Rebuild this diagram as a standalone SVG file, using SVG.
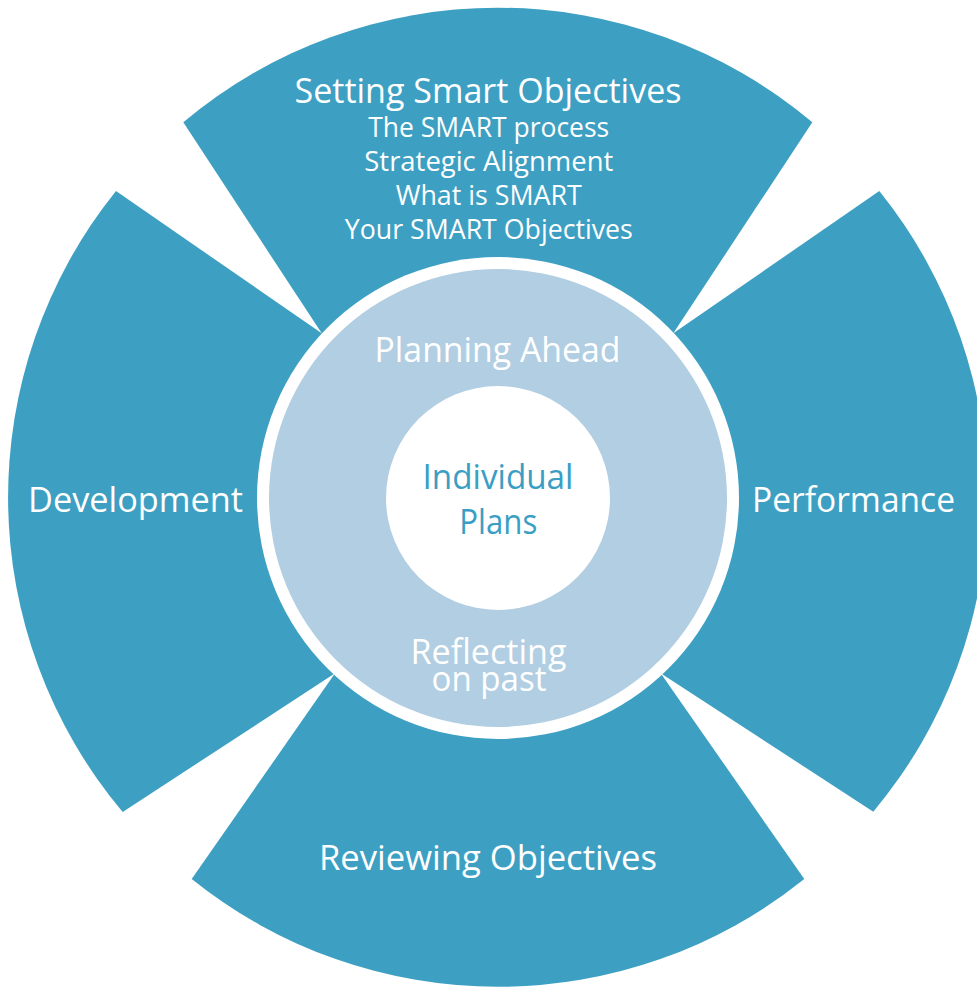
<svg xmlns="http://www.w3.org/2000/svg" width="977" height="987" viewBox="0 0 977 987">
<style>
.sec{fill:#3DA0C3}
.lab{font-family:"Open Sans","Liberation Sans",sans-serif;fill:#ffffff;text-anchor:middle}
.big{font-size:34px}
.sub{font-size:27px}
.core{font-family:"Open Sans","Liberation Sans",sans-serif;fill:#3A9EC4;text-anchor:middle;font-size:35px}
</style>
<rect x="0" y="0" width="977" height="987" fill="#ffffff"/>
<g id="connectors"></g>
<g id="node-top">
<path class="sec" d="M183.3,122.3 A489,489 0 0 1 812.3,122.3 L673.3,333.3 L498,498 L321.7,333.3 Z"/>
<text class="lab big" x="488" y="103" textLength="387" lengthAdjust="spacingAndGlyphs">Setting Smart Objectives</text>
<text class="lab sub" x="488.7" y="137" textLength="241" lengthAdjust="spacingAndGlyphs">The SMART process</text>
<text class="lab sub" x="488.8" y="171" textLength="249" lengthAdjust="spacingAndGlyphs">Strategic Alignment</text>
<text class="lab sub" x="488.7" y="204.5" textLength="186" lengthAdjust="spacingAndGlyphs">What is SMART</text>
<text class="lab sub" x="488.8" y="238.5" textLength="288" lengthAdjust="spacingAndGlyphs">Your SMART Objectives</text>
</g>
<g id="node-right">
<path class="sec" d="M879.3,191 A489,489 0 0 1 873.3,811.7 L660.7,673.3 L498,498 L673.3,333.3 Z"/>
<text class="lab big" x="853.5" y="512" textLength="203" lengthAdjust="spacingAndGlyphs">Performance</text>
</g>
<g id="node-bottom">
<path class="sec" d="M804.3,879 A489,489 0 0 1 191.7,879 L335,673.3 L498,498 L660.7,673.3 Z"/>
<text class="lab big" x="488" y="870" textLength="338" lengthAdjust="spacingAndGlyphs">Reviewing Objectives</text>
</g>
<g id="node-left">
<path class="sec" d="M122.7,812 A489,489 0 0 1 116,191 L321.7,333.3 L498,498 L335,673.3 Z"/>
<text class="lab big" x="135.5" y="512" textLength="215" lengthAdjust="spacingAndGlyphs">Development</text>
</g>
<g id="node-center">
<circle cx="498" cy="498" r="241" fill="#ffffff"/>
<circle cx="498" cy="498" r="229" fill="#B1CEE2"/>
<text class="lab big" x="497.5" y="361.5" textLength="246" lengthAdjust="spacingAndGlyphs">Planning Ahead</text>
<text class="lab big" x="488.5" y="663.5" textLength="156" lengthAdjust="spacingAndGlyphs">Reflecting</text>
<text class="lab big" x="489" y="690.5" textLength="115" lengthAdjust="spacingAndGlyphs">on past</text>
</g>
<g id="node-core">
<circle cx="498" cy="498" r="112" fill="#ffffff"/>
<text class="core" x="498" y="488.5" textLength="151" lengthAdjust="spacingAndGlyphs">Individual</text>
<text class="core" x="498.3" y="533.5" textLength="78" lengthAdjust="spacingAndGlyphs">Plans</text>
</g>
</svg>
